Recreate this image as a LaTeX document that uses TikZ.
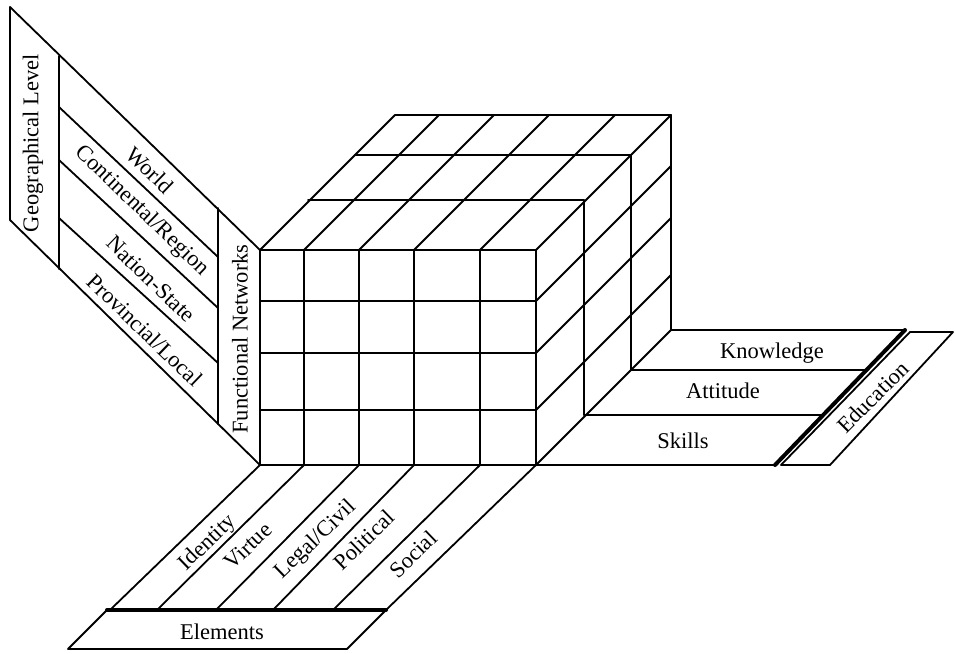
\documentclass[tikz,border=0pt]{standalone}
\usepackage{fontspec}
\setmainfont{Liberation Serif}
\begin{document}
\begin{tikzpicture}[x=1pt,y=-1pt, line width=1.8pt, line join=round, line cap=round,
  lbl/.style={font=\fontsize{22.5}{25}\selectfont, inner sep=0pt},
  thickline/.style={line width=4pt}]
\useasboundingbox (0,0) rectangle (955,653);

% ---- cube: front face
\foreach \x in {260,304,359,414,480,536} \draw (\x,250) -- (\x,465);
\foreach \y in {250,301,353,410,465} \draw (260,\y) -- (536,\y);
% ---- top face
\foreach \x in {260,304,359,414,480,536} \draw (\x,250) -- ++(135,-135);
\foreach \dx/\dy in {48/50,95/95,135/135} \draw (260+\dx,250-\dy) -- (536+\dx,250-\dy);
% ---- right face
\foreach \dx/\dy in {48/50,95/95,135/135} \draw (536+\dx,250-\dy) -- (536+\dx,465-\dy);
\foreach \y in {301,353,410,465} \draw (536,\y) -- ++(135,-135);

% ---- left wall
\draw (10,7) -- (260,250);
\draw (10,220) -- (260,465);
\draw (10,7) -- (10,220);
\draw (59,56) -- (59,269);
\draw (218,208) -- (218,424);
\draw (59,107) -- (218,257);
\draw (59,160) -- (218,308);
\draw (59,218) -- (218,363);

% ---- bottom panel
\draw (260,465) -- (110,610);
\draw (304,465) -- (157,610);
\draw (359,465) -- (216,610);
\draw (414,465) -- (273,610);
\draw (480,465) -- (333,610);
\draw (536,465) -- (386,610);
\draw[thickline] (107,610) -- (386,610);
\draw (107,610) -- (68,649) -- (347,649) -- (386,610);

% ---- right floor
\draw (536,465) -- (775,465);
\draw (584,415) -- (822,415);
\draw (631,370) -- (867,370);
\draw (671,330) -- (905,330);
\draw[thickline] (775,465) -- (905,330);
\draw (781,465) -- (910,332) -- (953,332) -- (830,465) -- cycle;

% ---- labels
\node[lbl, rotate=90] (geo) at (33,143) {Geographical Level};
\node[lbl, rotate=90] (func) at (240,339) {Functional Networks};
\node[lbl, rotate=-44] (world) at (150,170) {World};
\node[lbl, rotate=-44] (cont) at (142,211) {Continental/Region};
\node[lbl, rotate=-44] (nation) at (151,279) {Nation-State};
\node[lbl, rotate=-44] (prov) at (145,330) {Provincial/Local};
\node[lbl, rotate=44] (ident) at (208,543) {Identity};
\node[lbl, rotate=44] (virtue) at (248,546) {Virtue};
\node[lbl, rotate=44] (legal) at (316,540) {Legal/Civil};
\node[lbl, rotate=44] (polit) at (364,540) {Political};
\node[lbl, rotate=44] (social) at (413,554) {Social};
\node[lbl] (elem) at (222,632) {Elements};
\node[lbl] (know) at (772,353) {Knowledge};
\node[lbl] (att) at (723,391) {Attitude};
\node[lbl] (skills) at (683,441) {Skills};
\node[lbl, rotate=45] (edu) at (873,397) {Education};
\end{tikzpicture}
\end{document}
